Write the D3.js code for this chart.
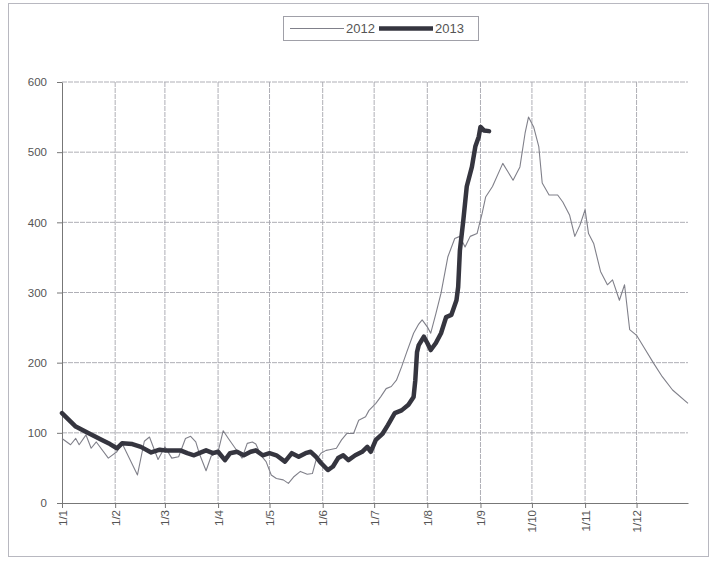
<!DOCTYPE html>
<html>
<head>
<meta charset="utf-8">
<script src="https://cdn.jsdelivr.net/npm/d3@7"></script>
<style>
  html, body { margin: 0; padding: 0; background: #fff; }
  svg { display: block; font-family: "Liberation Sans", Arial, sans-serif; }
</style>
</head>
<body>
<svg id="chart" width="713" height="567"></svg>
<script>
// ---- data ----
const monthTicks = ["1/1","1/2","1/3","1/4","1/5","1/6","1/7","1/8","1/9","1/10","1/11","1/12"];
const yTicks = [0, 100, 200, 300, 400, 500, 600];
const seriesNames = ["2012", "2013"];

// dates as "M/D"
const dates2012 = ["1/1","1/6","1/9","1/11","1/15","1/18","1/21","1/28","2/2","2/5","2/14","2/18","2/21","2/26",
  "3/1","3/5","3/9","3/13","3/16","3/19","3/21","3/25","3/28","4/1","4/4","4/7","4/11","4/15","4/18","4/21",
  "4/23","4/26","4/29","5/2","5/5","5/9","5/12","5/15","5/19","5/23","5/26","5/28","5/31","6/3","6/5","6/9",
  "6/12","6/15","6/19","6/22","6/26","6/28","7/2","7/5","7/8","7/11","7/14","7/17","7/20","7/24","7/27","7/29",
  "8/1","8/3","8/6","8/9","8/13","8/17","8/20","8/23","8/26","8/30","9/2","9/4","9/8","9/14","9/17","9/20",
  "9/24","9/27","9/29","10/2","10/5","10/7","10/11","10/16","10/19","10/23","10/26","10/29","11/1","11/3",
  "11/6","11/10","11/14","11/17","11/21","11/24","11/27","12/1","12/5","12/11","12/16","12/22","12/31"];
const values2012 = [92,83,92,83,97,78,87,64,73,85,40,88,94,62,
  80,64,66,92,95,87,71,46,67,73,103,92,78,64,85,87,
  84,68,59,40,35,33,28,37,45,41,42,60,71,75,76,78,
  90,99,99,118,123,132,142,152,163,166,175,194,215,242,255,261,
  251,242,270,299,351,377,380,365,380,384,413,436,451,484,472,460,
  479,527,550,536,508,456,439,439,429,410,380,396,418,384,
  370,330,311,318,289,311,247,239,223,199,180,161,142];

const dates2013 = ["1/1","1/9","1/16","1/24","1/29","2/2","2/5","2/11","2/16","2/22","2/27","3/1","3/7","3/10",
  "3/14","3/18","3/21","3/25","3/29","4/1","4/5","4/8","4/12","4/16","4/20","4/23","4/27","5/1","5/5","5/10",
  "5/14","5/18","5/22","5/25","5/28","5/31","6/4","6/7","6/10","6/13","6/16","6/20","6/24","6/27","6/29",
  "7/2","7/6","7/9","7/13","7/17","7/21","7/24","7/25","7/26","7/27","7/30","8/1","8/3","8/6","8/9","8/12",
  "8/15","8/18","8/19","8/20","8/22","8/24","8/27","8/29","8/31","9/1","9/3","9/6"];
const values2013 = [128,109,100,90,84,78,85,84,80,72,76,75,75,75,
  71,68,71,75,71,73,61,71,73,68,73,75,68,71,68,59,
  71,66,71,73,66,57,47,52,64,68,61,68,73,80,73,
  90,99,111,128,132,140,151,175,215,225,237,228,218,228,242,265,
  268,289,308,360,403,451,479,508,522,536,531,530];

// ---- drawing ----
const svg = d3.select("#chart");
const parse = s => { const [m, d] = s.split("/").map(Number); return new Date(2012, m - 1, d); };

const x = d3.scaleTime()
  .domain([new Date(2012, 0, 1), new Date(2012, 11, 31)])
  .range([62, 688]);
const y = d3.scaleLinear().domain([0, 600]).range([503, 82]);

// outer frame
svg.append("rect").attr("x", 8.5).attr("y", 3.5).attr("width", 700).attr("height", 553)
  .attr("fill", "none").attr("stroke", "#b8b8c0").attr("stroke-width", 1);

const tickDates = monthTicks.map(t => { const [d, m] = t.split("/").map(Number); return new Date(2012, m - 1, d); });

// gridlines
const grid = svg.append("g").attr("stroke", "#a6a6ae").attr("stroke-width", 0.9).attr("stroke-dasharray", "5,1");
grid.selectAll("line.h").data(yTicks.filter(v => v > 0)).join("line")
  .attr("x1", 62).attr("x2", 688).attr("y1", d => y(d)).attr("y2", d => y(d));
grid.selectAll("line.v").data(tickDates.slice(1)).join("line")
  .attr("x1", d => x(d)).attr("x2", d => x(d)).attr("y1", 82).attr("y2", 503);

// axes
const fmtTick = (d) => monthTicks[tickDates.findIndex(t => +t === +d)];
const xAxis = svg.append("g").attr("transform", "translate(0,503)")
  .call(d3.axisBottom(x).tickValues(tickDates).tickFormat(fmtTick).tickSize(5).tickSizeOuter(0));
xAxis.selectAll("text")
  .attr("transform", "rotate(-90)").attr("x", -7).attr("y", 0).attr("dy", "0.35em")
  .style("text-anchor", "end");

const yAxis = svg.append("g").attr("transform", "translate(62,0)")
  .call(d3.axisLeft(y).tickValues(yTicks).tickSize(5).tickSizeOuter(0).tickPadding(10));

[xAxis, yAxis].forEach(a => {
  a.select(".domain").attr("stroke", "#777");
  a.selectAll(".tick line").attr("stroke", "#777");
  a.selectAll("text").attr("fill", "#555").style("font-size", "11.5px")
    .style("font-family", "'Liberation Sans', Arial, sans-serif");
});

// lines
const line = d3.line().x(d => x(d.date)).y(d => y(d.value));
const data2012 = dates2012.map((d, i) => ({ date: parse(d), value: values2012[i] }));
const data2013 = dates2013.map((d, i) => ({ date: parse(d), value: values2013[i] }));

svg.append("path").datum(data2012).attr("d", line)
  .attr("fill", "none").attr("stroke", "#80808a").attr("stroke-width", 1.1)
  .attr("stroke-linejoin", "round");
svg.append("path").datum(data2013).attr("d", line)
  .attr("fill", "none").attr("stroke", "#35353f").attr("stroke-width", 4.5)
  .attr("stroke-linejoin", "round").attr("stroke-linecap", "round");

// legend
const lg = svg.append("g");
lg.append("rect").attr("x", 283.5).attr("y", 16.5).attr("width", 195).attr("height", 24)
  .attr("fill", "#fff").attr("stroke", "#a0a0a8");
lg.append("line").attr("x1", 290).attr("x2", 344).attr("y1", 28.5).attr("y2", 28.5)
  .attr("stroke", "#80808a").attr("stroke-width", 1.1);
lg.append("text").attr("x", 346).attr("y", 33).text(seriesNames[0])
  .attr("fill", "#555").style("font-size", "13px");
lg.append("line").attr("x1", 379).attr("x2", 433).attr("y1", 28.5).attr("y2", 28.5)
  .attr("stroke", "#35353f").attr("stroke-width", 4.5);
lg.append("text").attr("x", 435).attr("y", 33).text(seriesNames[1])
  .attr("fill", "#555").style("font-size", "13px");
</script>
</body>
</html>
